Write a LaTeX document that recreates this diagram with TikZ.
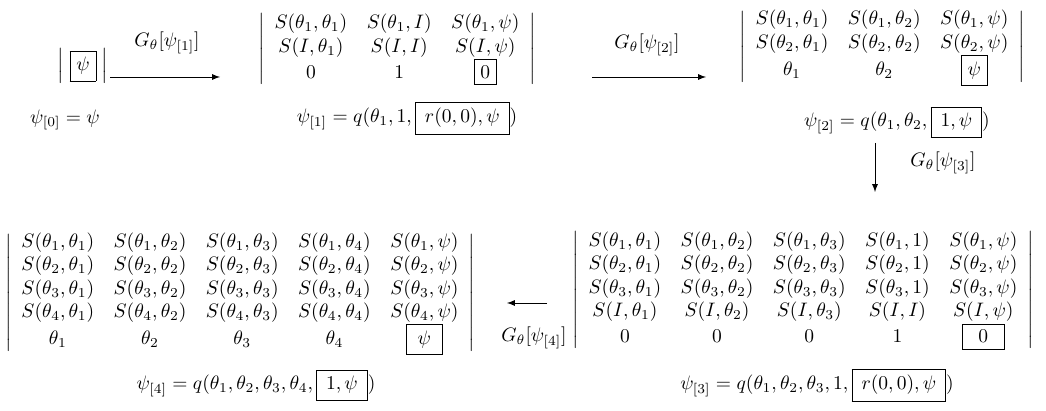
\documentclass[tikz,border=0pt]{standalone}
\usepackage{amsmath}

\tikzset{
  det/.style={inner sep=0pt},
  lbl/.style={inner sep=1pt},
  flow/.style={->, >=latex, thin},
}

\begin{document}
\begin{tikzpicture}[x=0.5128pt, y=-0.5128pt]
    \useasboundingbox (0,0) rectangle (1046,411);

    % 1. Define the coordinates (arrow ends)
    \coordinate (A1s) at (110, 77);   % first arrow start
    \coordinate (A1e) at (220, 77);   % first arrow end
    \coordinate (A2s) at (592, 77);   % second arrow start
    \coordinate (A2e) at (706, 77);   % second arrow end
    \coordinate (A3s) at (875, 143);  % down arrow start
    \coordinate (A3e) at (875, 192);  % down arrow end
    \coordinate (A4s) at (547, 303);  % back arrow start
    \coordinate (A4e) at (507, 303);  % back arrow end

    % 2. Place the determinants (Nodes)
    % Top row
    \node[det] (D0) at (83, 66) {$\left|\;\fbox{$\psi$}\;\right|$};
    \node[det] (D1) at (397, 49) {$\left|\begin{array}{ccc}
        S(\theta_1,\theta_1) & S(\theta_1,I) & S(\theta_1,\psi)\\
        S(I,\theta_1) & S(I,I) & S(I,\psi)\\
        0 & 1 & \fbox{$0$}
      \end{array}\right|$};
    \node[det] (D2) at (882, 47) {$\left|\begin{array}{ccc}
        S(\theta_1,\theta_1) & S(\theta_1,\theta_2) & S(\theta_1,\psi)\\
        S(\theta_2,\theta_1) & S(\theta_2,\theta_2) & S(\theta_2,\psi)\\
        \theta_1 & \theta_2 & \fbox{$\psi$}
      \end{array}\right|$};

    % Bottom row
    \node[det] (D3) at (803, 290) {$\left|\begin{array}{ccccc}
        S(\theta_1,\theta_1) & S(\theta_1,\theta_2) & S(\theta_1,\theta_3) & S(\theta_1,1) & S(\theta_1,\psi)\\
        S(\theta_2,\theta_1) & S(\theta_2,\theta_2) & S(\theta_2,\theta_3) & S(\theta_2,1) & S(\theta_2,\psi)\\
        S(\theta_3,\theta_1) & S(\theta_3,\theta_2) & S(\theta_3,\theta_3) & S(\theta_3,1) & S(\theta_3,\psi)\\
        S(I,\theta_1) & S(I,\theta_2) & S(I,\theta_3) & S(I,I) & S(I,\psi)\\
        0 & 0 & 0 & 1 & \fbox{\makebox[15pt]{$0$}}
      \end{array}\right|$};
    \node[det] (D4) at (240, 293) {$\left|\begin{array}{ccccc}
        S(\theta_1,\theta_1) & S(\theta_1,\theta_2) & S(\theta_1,\theta_3) & S(\theta_1,\theta_4) & S(\theta_1,\psi)\\
        S(\theta_2,\theta_1) & S(\theta_2,\theta_2) & S(\theta_2,\theta_3) & S(\theta_2,\theta_4) & S(\theta_2,\psi)\\
        S(\theta_3,\theta_1) & S(\theta_3,\theta_2) & S(\theta_3,\theta_3) & S(\theta_3,\theta_4) & S(\theta_3,\psi)\\
        S(\theta_4,\theta_1) & S(\theta_4,\theta_2) & S(\theta_4,\theta_3) & S(\theta_4,\theta_4) & S(\theta_4,\psi)\\
        \theta_1 & \theta_2 & \theta_3 & \theta_4 & \fbox{\makebox[12pt]{$\psi$}}
      \end{array}\right|$};

    % 3. The states under each determinant
    \node[lbl] (P0) at (65, 120)  {$\psi_{[0]}=\psi$};
    \node[lbl] (P1) at (407, 118) {$\psi_{[1]}=q(\theta_1,1,\fbox{$\,r(0,0),\psi\,$})$};
    \node[lbl] (P2) at (897, 122) {$\psi_{[2]}=q(\theta_1,\theta_2,\fbox{$\,1,\psi\,$})$};
    \node[lbl] (P3) at (817, 385) {$\psi_{[3]}=q(\theta_1,\theta_2,\theta_3,1,\fbox{$\,r(0,0),\psi\,$})$};
    \node[lbl] (P4) at (256, 385) {$\psi_{[4]}=q(\theta_1,\theta_2,\theta_3,\theta_4,\fbox{$\,1,\psi\,$})$};

    % 4. Draw the steps (Arrows)
    \draw[flow] (A1s) -- (A1e);
    \draw[flow] (A2s) -- (A2e);
    \draw[flow] (A3s) -- (A3e);
    \draw[flow] (A4s) -- (A4e);

    % step labels
    \node[lbl] (G1) at (167, 43)  {$G_\theta[\psi_{[1]}]$};
    \node[lbl] (G2) at (647, 45)  {$G_\theta[\psi_{[2]}]$};
    \node[lbl] (G3) at (943, 163) {$G_\theta[\psi_{[3]}]$};
    \node[lbl] (G4) at (534, 338) {$G_\theta[\psi_{[4]}]$};

\end{tikzpicture}
\end{document}
